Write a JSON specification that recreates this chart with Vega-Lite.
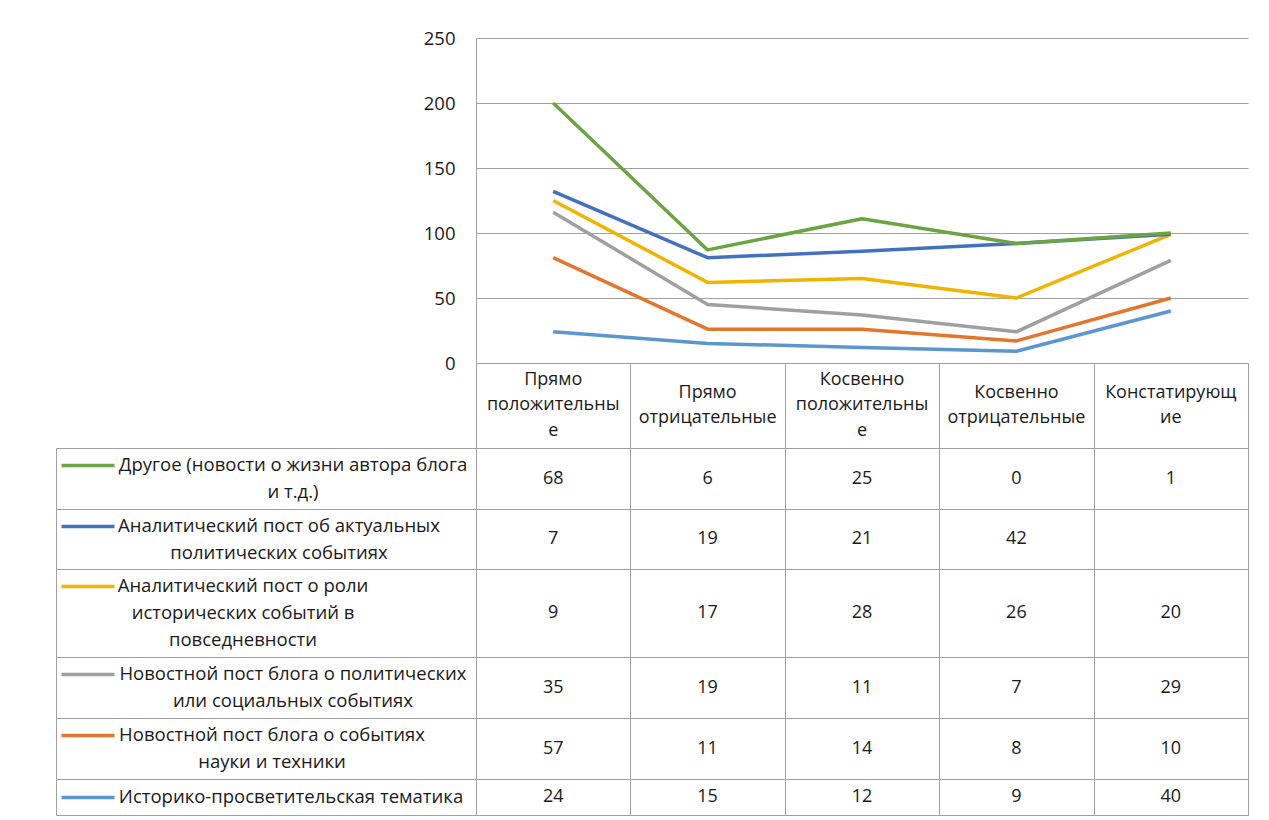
{
  "$schema": "https://vega.github.io/schema/vega-lite/v6.json",
  "padding": {"left": 55, "top": 29, "right": 0, "bottom": 0},
  "background": "white",
  "datasets": {
    "vals": [
      {"series": "Историко-просветительская тематика", "n": 1, "category": "Прямо положительные", "value": 24},
      {"series": "Историко-просветительская тематика", "n": 1, "category": "Прямо отрицательные", "value": 15},
      {"series": "Историко-просветительская тематика", "n": 1, "category": "Косвенно положительные", "value": 12},
      {"series": "Историко-просветительская тематика", "n": 1, "category": "Косвенно отрицательные", "value": 9},
      {"series": "Историко-просветительская тематика", "n": 1, "category": "Констатирующие", "value": 40},
      {"series": "Новостной пост блога о событиях науки и техники", "n": 2, "category": "Прямо положительные", "value": 57},
      {"series": "Новостной пост блога о событиях науки и техники", "n": 2, "category": "Прямо отрицательные", "value": 11},
      {"series": "Новостной пост блога о событиях науки и техники", "n": 2, "category": "Косвенно положительные", "value": 14},
      {"series": "Новостной пост блога о событиях науки и техники", "n": 2, "category": "Косвенно отрицательные", "value": 8},
      {"series": "Новостной пост блога о событиях науки и техники", "n": 2, "category": "Констатирующие", "value": 10},
      {"series": "Новостной пост блога о политических или социальных событиях", "n": 3, "category": "Прямо положительные", "value": 35},
      {"series": "Новостной пост блога о политических или социальных событиях", "n": 3, "category": "Прямо отрицательные", "value": 19},
      {"series": "Новостной пост блога о политических или социальных событиях", "n": 3, "category": "Косвенно положительные", "value": 11},
      {"series": "Новостной пост блога о политических или социальных событиях", "n": 3, "category": "Косвенно отрицательные", "value": 7},
      {"series": "Новостной пост блога о политических или социальных событиях", "n": 3, "category": "Констатирующие", "value": 29},
      {"series": "Аналитический пост о роли исторических событий в повседневности", "n": 4, "category": "Прямо положительные", "value": 9},
      {"series": "Аналитический пост о роли исторических событий в повседневности", "n": 4, "category": "Прямо отрицательные", "value": 17},
      {"series": "Аналитический пост о роли исторических событий в повседневности", "n": 4, "category": "Косвенно положительные", "value": 28},
      {"series": "Аналитический пост о роли исторических событий в повседневности", "n": 4, "category": "Косвенно отрицательные", "value": 26},
      {"series": "Аналитический пост о роли исторических событий в повседневности", "n": 4, "category": "Констатирующие", "value": 20},
      {"series": "Аналитический пост об актуальных политических событиях", "n": 5, "category": "Прямо положительные", "value": 7},
      {"series": "Аналитический пост об актуальных политических событиях", "n": 5, "category": "Прямо отрицательные", "value": 19},
      {"series": "Аналитический пост об актуальных политических событиях", "n": 5, "category": "Косвенно положительные", "value": 21},
      {"series": "Аналитический пост об актуальных политических событиях", "n": 5, "category": "Косвенно отрицательные", "value": 42},
      {"series": "Аналитический пост об актуальных политических событиях", "n": 5, "category": "Констатирующие", "value": null},
      {"series": "Другое (новости о жизни автора блога и т.д.)", "n": 6, "category": "Прямо положительные", "value": 68},
      {"series": "Другое (новости о жизни автора блога и т.д.)", "n": 6, "category": "Прямо отрицательные", "value": 6},
      {"series": "Другое (новости о жизни автора блога и т.д.)", "n": 6, "category": "Косвенно положительные", "value": 25},
      {"series": "Другое (новости о жизни автора блога и т.д.)", "n": 6, "category": "Косвенно отрицательные", "value": 0},
      {"series": "Другое (новости о жизни автора блога и т.д.)", "n": 6, "category": "Констатирующие", "value": 1}
    ],
    "rows": [
      {"series": "Другое (новости о жизни автора блога и т.д.)", "label": "Другое (новости о жизни автора блога\nи т.д.)"},
      {"series": "Аналитический пост об актуальных политических событиях", "label": "Аналитический пост об актуальных\nполитических событиях"},
      {"series": "Аналитический пост о роли исторических событий в повседневности", "label": "Аналитический пост о роли\nисторических событий в\nповседневности"},
      {"series": "Новостной пост блога о политических или социальных событиях", "label": "Новостной пост блога о политических\nили социальных событиях"},
      {"series": "Новостной пост блога о событиях науки и техники", "label": "Новостной пост блога о событиях\nнауки и  техники"},
      {"series": "Историко-просветительская тематика", "label": "Историко-просветительская тематика"}
    ],
    "cats": [
      {"category": "Прямо положительные", "label": "Прямо\nположительны\nе"},
      {"category": "Прямо отрицательные", "label": "Прямо\nотрицательные"},
      {"category": "Косвенно положительные", "label": "Косвенно\nположительны\nе"},
      {"category": "Косвенно отрицательные", "label": "Косвенно\nотрицательные"},
      {"category": "Констатирующие", "label": "Констатирующ\nие"}
    ]
  },
  "columns": 2,
  "spacing": 0,
  "bounds": "flush",
  "align": "each",
  "concat": [
    {"width": 420, "height": 325, "data": {"values": []}, "mark": "point", "view": {"stroke": null}},
    {
      "width": 772, "height": 325,
      "data": {"name": "vals"},
      "transform": [{"stack": "value", "groupby": ["category"], "sort": [{"field": "n", "order": "ascending"}], "as": ["y0", "y1"]}],
      "mark": {"type": "line", "strokeWidth": 3.5, "strokeJoin": "round"},
      "encoding": {
        "x": {"field": "category", "type": "nominal", "scale": {"domain": ["Прямо положительные", "Прямо отрицательные", "Косвенно положительные", "Косвенно отрицательные", "Констатирующие"]}, "axis": null},
        "y": {"field": "y1", "type": "quantitative", "scale": {"domain": [0, 250], "nice": false}, "axis": {"values": [0, 50, 100, 150, 200, 250], "title": null, "grid": true, "ticks": false, "domain": true, "domainColor": "#A0A0A0", "gridColor": "#A0A0A0", "labelFontSize": 18.5, "labelPadding": 21, "labelColor": "#1a1a1a"}},
        "color": {"field": "series", "type": "nominal", "legend": null, "scale": {
          "domain": ["Историко-просветительская тематика", "Новостной пост блога о событиях науки и техники", "Новостной пост блога о политических или социальных событиях", "Аналитический пост о роли исторических событий в повседневности", "Аналитический пост об актуальных политических событиях", "Другое (новости о жизни автора блога и т.д.)"],
          "range": ["#5B96CF", "#E4762C", "#A0A0A0", "#F0B400", "#4470C0", "#6AA443"]}}
      },
      "view": {"stroke": null}
    },
    {"width": 420, "height": 85, "data": {"values": []}, "mark": "point", "view": {"stroke": null}},
    {
      "width": 772, "height": 85,
      "data": {"name": "cats"},
      "transform": [{"calculate": "length(split(datum.label, '\\n'))", "as": "nl"}],
      "encoding": {
        "x": {"field": "category", "type": "nominal", "scale": {"type": "band", "paddingInner": 0, "paddingOuter": 0, "domain": ["Прямо положительные", "Прямо отрицательные", "Косвенно положительные", "Косвенно отрицательные", "Констатирующие"]}, "axis": {"labels": false, "ticks": false, "domain": false, "grid": true, "tickBand": "extent", "title": null}},
        "text": {"field": "label"}
      },
      "layer": [
        {"transform": [{"filter": "datum.nl == 3"}], "mark": {"type": "text", "lineBreak": "\n", "lineHeight": 25.5, "fontSize": 18, "dy": -26}},
        {"transform": [{"filter": "datum.nl == 2"}], "mark": {"type": "text", "lineBreak": "\n", "lineHeight": 25.5, "fontSize": 18, "dy": -13}}
      ]
    },
    {
      "width": 420, "height": 61,
      "data": {"name": "rows"},
      "transform": [{"filter": {"field": "series", "equal": "Другое (новости о жизни автора блога и т.д.)"}}],
      "mark": {"type": "text", "lineBreak": "\n", "lineHeight": 27, "fontSize": 18.5, "dx": 27, "dy": -13.5},
      "encoding": {
        "y": {"field": "series", "type": "nominal", "axis": {"offset": -58, "labels": false, "domain": false, "grid": false, "ticks": true, "tickSize": 53, "tickWidth": 3.5, "tickColor": "#6AA443", "tickOffset": -13.5, "title": null}},
        "text": {"field": "label"}
      }
    },
    {
      "width": 772, "height": 61,
      "data": {"name": "vals"},
      "transform": [{"filter": {"field": "series", "equal": "Другое (новости о жизни автора блога и т.д.)"}}, {"filter": "isValid(datum.value)"}],
      "mark": {"type": "text", "fontSize": 18},
      "encoding": {
        "x": {"field": "category", "type": "nominal", "scale": {"type": "band", "paddingInner": 0, "paddingOuter": 0, "domain": ["Прямо положительные", "Прямо отрицательные", "Косвенно положительные", "Косвенно отрицательные", "Констатирующие"]}, "axis": {"labels": false, "ticks": false, "domain": false, "grid": true, "tickBand": "extent", "title": null}},
        "text": {"field": "value", "type": "quantitative"}
      }
    },
    {
      "width": 420, "height": 60,
      "data": {"name": "rows"},
      "transform": [{"filter": {"field": "series", "equal": "Аналитический пост об актуальных политических событиях"}}],
      "mark": {"type": "text", "lineBreak": "\n", "lineHeight": 27, "fontSize": 18.5, "dx": 13, "dy": -13.5},
      "encoding": {
        "y": {"field": "series", "type": "nominal", "axis": {"offset": -58, "labels": false, "domain": false, "grid": false, "ticks": true, "tickSize": 53, "tickWidth": 3.5, "tickColor": "#4470C0", "tickOffset": -13.5, "title": null}},
        "text": {"field": "label"}
      }
    },
    {
      "width": 772, "height": 60,
      "data": {"name": "vals"},
      "transform": [{"filter": {"field": "series", "equal": "Аналитический пост об актуальных политических событиях"}}, {"filter": "isValid(datum.value)"}],
      "mark": {"type": "text", "fontSize": 18},
      "encoding": {
        "x": {"field": "category", "type": "nominal", "scale": {"type": "band", "paddingInner": 0, "paddingOuter": 0, "domain": ["Прямо положительные", "Прямо отрицательные", "Косвенно положительные", "Косвенно отрицательные", "Констатирующие"]}, "axis": {"labels": false, "ticks": false, "domain": false, "grid": true, "tickBand": "extent", "title": null}},
        "text": {"field": "value", "type": "quantitative"}
      }
    },
    {
      "width": 420, "height": 88,
      "data": {"name": "rows"},
      "transform": [{"filter": {"field": "series", "equal": "Аналитический пост о роли исторических событий в повседневности"}}],
      "mark": {"type": "text", "lineBreak": "\n", "lineHeight": 27, "fontSize": 18.5, "dx": -23, "dy": -27},
      "encoding": {
        "y": {"field": "series", "type": "nominal", "axis": {"offset": -58, "labels": false, "domain": false, "grid": false, "ticks": true, "tickSize": 53, "tickWidth": 3.5, "tickColor": "#F0B400", "tickOffset": -27, "title": null}},
        "text": {"field": "label"}
      }
    },
    {
      "width": 772, "height": 88,
      "data": {"name": "vals"},
      "transform": [{"filter": {"field": "series", "equal": "Аналитический пост о роли исторических событий в повседневности"}}, {"filter": "isValid(datum.value)"}],
      "mark": {"type": "text", "fontSize": 18},
      "encoding": {
        "x": {"field": "category", "type": "nominal", "scale": {"type": "band", "paddingInner": 0, "paddingOuter": 0, "domain": ["Прямо положительные", "Прямо отрицательные", "Косвенно положительные", "Косвенно отрицательные", "Констатирующие"]}, "axis": {"labels": false, "ticks": false, "domain": false, "grid": true, "tickBand": "extent", "title": null}},
        "text": {"field": "value", "type": "quantitative"}
      }
    },
    {
      "width": 420, "height": 61,
      "data": {"name": "rows"},
      "transform": [{"filter": {"field": "series", "equal": "Новостной пост блога о политических или социальных событиях"}}],
      "mark": {"type": "text", "lineBreak": "\n", "lineHeight": 27, "fontSize": 18.5, "dx": 27, "dy": -13.5},
      "encoding": {
        "y": {"field": "series", "type": "nominal", "axis": {"offset": -58, "labels": false, "domain": false, "grid": false, "ticks": true, "tickSize": 53, "tickWidth": 3.5, "tickColor": "#A0A0A0", "tickOffset": -13.5, "title": null}},
        "text": {"field": "label"}
      }
    },
    {
      "width": 772, "height": 61,
      "data": {"name": "vals"},
      "transform": [{"filter": {"field": "series", "equal": "Новостной пост блога о политических или социальных событиях"}}, {"filter": "isValid(datum.value)"}],
      "mark": {"type": "text", "fontSize": 18},
      "encoding": {
        "x": {"field": "category", "type": "nominal", "scale": {"type": "band", "paddingInner": 0, "paddingOuter": 0, "domain": ["Прямо положительные", "Прямо отрицательные", "Косвенно положительные", "Косвенно отрицательные", "Констатирующие"]}, "axis": {"labels": false, "ticks": false, "domain": false, "grid": true, "tickBand": "extent", "title": null}},
        "text": {"field": "value", "type": "quantitative"}
      }
    },
    {
      "width": 420, "height": 61,
      "data": {"name": "rows"},
      "transform": [{"filter": {"field": "series", "equal": "Новостной пост блога о событиях науки и техники"}}],
      "mark": {"type": "text", "lineBreak": "\n", "lineHeight": 27, "fontSize": 18.5, "dx": 6, "dy": -13.5},
      "encoding": {
        "y": {"field": "series", "type": "nominal", "axis": {"offset": -58, "labels": false, "domain": false, "grid": false, "ticks": true, "tickSize": 53, "tickWidth": 3.5, "tickColor": "#E4762C", "tickOffset": -13.5, "title": null}},
        "text": {"field": "label"}
      }
    },
    {
      "width": 772, "height": 61,
      "data": {"name": "vals"},
      "transform": [{"filter": {"field": "series", "equal": "Новостной пост блога о событиях науки и техники"}}, {"filter": "isValid(datum.value)"}],
      "mark": {"type": "text", "fontSize": 18},
      "encoding": {
        "x": {"field": "category", "type": "nominal", "scale": {"type": "band", "paddingInner": 0, "paddingOuter": 0, "domain": ["Прямо положительные", "Прямо отрицательные", "Косвенно положительные", "Косвенно отрицательные", "Констатирующие"]}, "axis": {"labels": false, "ticks": false, "domain": false, "grid": true, "tickBand": "extent", "title": null}},
        "text": {"field": "value", "type": "quantitative"}
      }
    },
    {
      "width": 420, "height": 36,
      "data": {"name": "rows"},
      "transform": [{"filter": {"field": "series", "equal": "Историко-просветительская тематика"}}],
      "mark": {"type": "text", "lineBreak": "\n", "lineHeight": 27, "fontSize": 18.5, "dx": 25},
      "encoding": {
        "y": {"field": "series", "type": "nominal", "axis": {"offset": -58, "labels": false, "domain": false, "grid": false, "ticks": true, "tickSize": 53, "tickWidth": 3.5, "tickColor": "#5B96CF", "tickOffset": 0, "title": null}},
        "text": {"field": "label"}
      }
    },
    {
      "width": 772, "height": 36,
      "data": {"name": "vals"},
      "transform": [{"filter": {"field": "series", "equal": "Историко-просветительская тематика"}}, {"filter": "isValid(datum.value)"}],
      "mark": {"type": "text", "fontSize": 18},
      "encoding": {
        "x": {"field": "category", "type": "nominal", "scale": {"type": "band", "paddingInner": 0, "paddingOuter": 0, "domain": ["Прямо положительные", "Прямо отрицательные", "Косвенно положительные", "Косвенно отрицательные", "Констатирующие"]}, "axis": {"labels": false, "ticks": false, "domain": false, "grid": true, "tickBand": "extent", "title": null}},
        "text": {"field": "value", "type": "quantitative"}
      }
    }
  ],
  "config": {
    "font": "Open Sans",
    "view": {"stroke": "#A0A0A0", "strokeWidth": 1},
    "axis": {"labelFont": "Open Sans", "gridColor": "#A0A0A0", "gridWidth": 1},
    "text": {"font": "Open Sans", "color": "#1a1a1a"},
    "concat": {"spacing": 0}
  }
}
